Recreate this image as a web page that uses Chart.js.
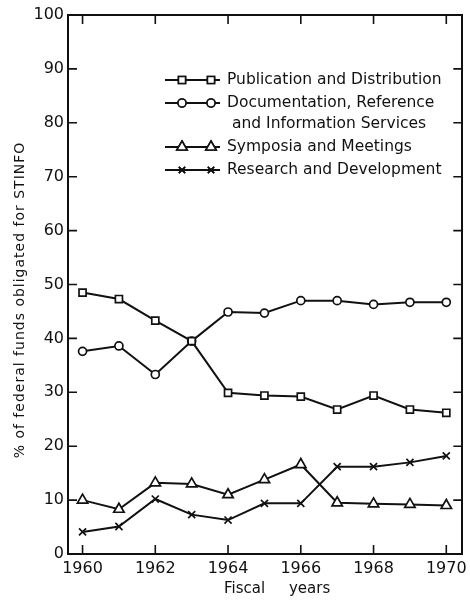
<!DOCTYPE html>
<html>
<head>
<meta charset="utf-8">
<script src="https://cdn.jsdelivr.net/npm/chart.js@4/dist/chart.umd.min.js"></script>
<style>
  html, body { margin: 0; padding: 0; background: #fff; }
  #wrap { width: 470px; height: 604px; }
</style>
</head>
<body>
<div id="wrap"><canvas id="stinfo"></canvas></div>
<script>
// fiscal years and percent of funds per activity
var years = [1960, 1961, 1962, 1963, 1964, 1965, 1966, 1967, 1968, 1969, 1970];
var pubDist = [48.5, 47.3, 43.3, 39.5, 29.9, 29.4, 29.2, 26.8, 29.4, 26.8, 26.2];
var docRef  = [37.6, 38.6, 33.3, 39.5, 44.9, 44.7, 47.0, 47.0, 46.3, 46.7, 46.7];
var symp    = [10.0, 8.3, 13.2, 13.0, 11.0, 13.8, 16.6, 9.5, 9.3, 9.2, 9.0];
var resDev  = [4.1, 5.1, 10.2, 7.3, 6.3, 9.4, 9.4, 16.2, 16.2, 17.0, 18.2];

var xTicks = [1960, 1962, 1964, 1966, 1968, 1970];
var yTicks = [0, 10, 20, 30, 40, 50, 60, 70, 80, 90, 100];

var legendRows = [
  { lines: ['Publication and Distribution'], style: 'rect', r: 5 },
  { lines: ['Documentation, Reference', 'and Information Services'], style: 'circle', r: 4 },
  { lines: ['Symposia and Meetings'], style: 'triangle', r: 6 },
  { lines: ['Research and Development'], style: 'crossRot', r: 4.5 }
];
var yTitle = '% of federal funds obligated for STINFO';
var xTitle = 'Fiscal     years';

function series(label, data, style, r) {
  return {
    label: label,
    data: years.map(function (y, i) { return { x: y, y: data[i] }; }),
    borderColor: '#111',
    borderWidth: 2,
    pointStyle: style,
    pointRadius: r,
    pointBorderWidth: 1.7,
    pointBackgroundColor: '#fff',
    pointBorderColor: '#111',
    tension: 0
  };
}

// inward tick marks on all four sides, legend, axis titles
var frame = {
  id: 'frame',
  afterDraw: function (chart) {
    var ctx = chart.ctx, a = chart.chartArea;
    var xs = chart.scales.x, ys = chart.scales.y;
    var len = 9;
    ctx.save();
    ctx.strokeStyle = '#111';
    ctx.lineWidth = 1.6;
    ctx.beginPath();
    xTicks.forEach(function (v) {
      var px = xs.getPixelForValue(v);
      ctx.moveTo(px, a.bottom); ctx.lineTo(px, a.bottom - len);
      ctx.moveTo(px, a.top); ctx.lineTo(px, a.top + len);
    });
    yTicks.forEach(function (v) {
      var py = ys.getPixelForValue(v);
      ctx.moveTo(a.left, py); ctx.lineTo(a.left + len, py);
      ctx.moveTo(a.right, py); ctx.lineTo(a.right - len, py);
    });
    ctx.stroke();

    // legend
    var lx = a.left + 97, ty = a.top + 65;
    ctx.font = '15.5px "DejaVu Sans", sans-serif';
    ctx.textBaseline = 'middle';
    ctx.fillStyle = '#111';
    legendRows.forEach(function (row) {
      ctx.lineWidth = 2;
      ctx.beginPath();
      ctx.moveTo(lx, ty); ctx.lineTo(lx + 55, ty);
      ctx.stroke();
      [lx + 17, lx + 46].forEach(function (mx) {
        ctx.fillStyle = '#fff';
        ctx.lineWidth = 1.6;
        Chart.helpers.drawPoint(ctx, { pointStyle: row.style, radius: row.r, rotation: 0, borderWidth: 1.6 }, mx, ty);
        ctx.fill();
        ctx.stroke();
      });
      ctx.fillStyle = '#111';
      row.lines.forEach(function (t, k) {
        ctx.fillText(t, lx + 62 + (k ? 5 : 0), ty);
        if (k < row.lines.length - 1) ty += 21;
      });
      ty += 23;
    });

    // x axis title
    ctx.font = '15px "DejaVu Sans", sans-serif';
    ctx.textAlign = 'center';
    ctx.fillText(xTitle, (a.left + a.right) / 2 + 12, 589);

    // y axis title, letter-spaced like the original lettering
    ctx.translate(20, 300);
    ctx.rotate(-Math.PI / 2);
    ctx.font = '14px "DejaVu Sans", sans-serif';
    ctx.letterSpacing = '1px';
    ctx.fillText(yTitle, 0, 0);
    ctx.restore();
  }
};

new Chart(document.getElementById('stinfo'), {
  type: 'line',
  data: {
    datasets: [
      series('Publication and Distribution', pubDist, 'rect', 5),
      series('Documentation, Reference and Information Services', docRef, 'circle', 4),
      series('Symposia and Meetings', symp, 'triangle', 6),
      series('Research and Development', resDev, 'crossRot', 5)
    ]
  },
  options: {
    responsive: true,
    maintainAspectRatio: false,
    animation: false,
    layout: { padding: { top: 15, right: 7, left: 0, bottom: 0 } },
    plugins: { legend: { display: false }, tooltip: { enabled: false } },
    scales: {
      x: {
        type: 'linear',
        min: 1959.6,
        max: 1970.44,
        afterBuildTicks: function (s) { s.ticks = xTicks.map(function (v) { return { value: v }; }); },
        afterFit: function (s) { s.height = 50; s.paddingLeft = 0; s.paddingRight = 0; },
        grid: { display: false, drawTicks: false },
        border: { display: true, color: '#111', width: 2 },
        ticks: {
          color: '#111',
          padding: 5,
          font: { family: '"DejaVu Sans", sans-serif', size: 16 },
          maxRotation: 0,
          callback: function (v) { return String(v); }
        }
      },
      y: {
        min: 0,
        max: 100,
        afterBuildTicks: function (s) { s.ticks = yTicks.map(function (v) { return { value: v }; }); },
        afterFit: function (s) { s.width = 68; },
        grid: { display: false, drawTicks: false },
        border: { display: true, color: '#111', width: 2 },
        ticks: {
          color: '#111',
          padding: 4,
          font: { family: '"DejaVu Sans", sans-serif', size: 16 }
        }
      },
      y2: {
        position: 'right',
        min: 0,
        max: 100,
        afterFit: function (s) { s.width = 0; },
        grid: { display: false, drawTicks: false },
        border: { display: true, color: '#111', width: 2 },
        ticks: { display: false }
      },
      x2: {
        type: 'linear',
        position: 'top',
        min: 1959.6,
        max: 1970.44,
        afterFit: function (s) { s.height = 0; },
        grid: { display: false, drawTicks: false },
        border: { display: true, color: '#111', width: 2 },
        ticks: { display: false }
      }
    }
  },
  plugins: [frame]
});
</script>
</body>
</html>
